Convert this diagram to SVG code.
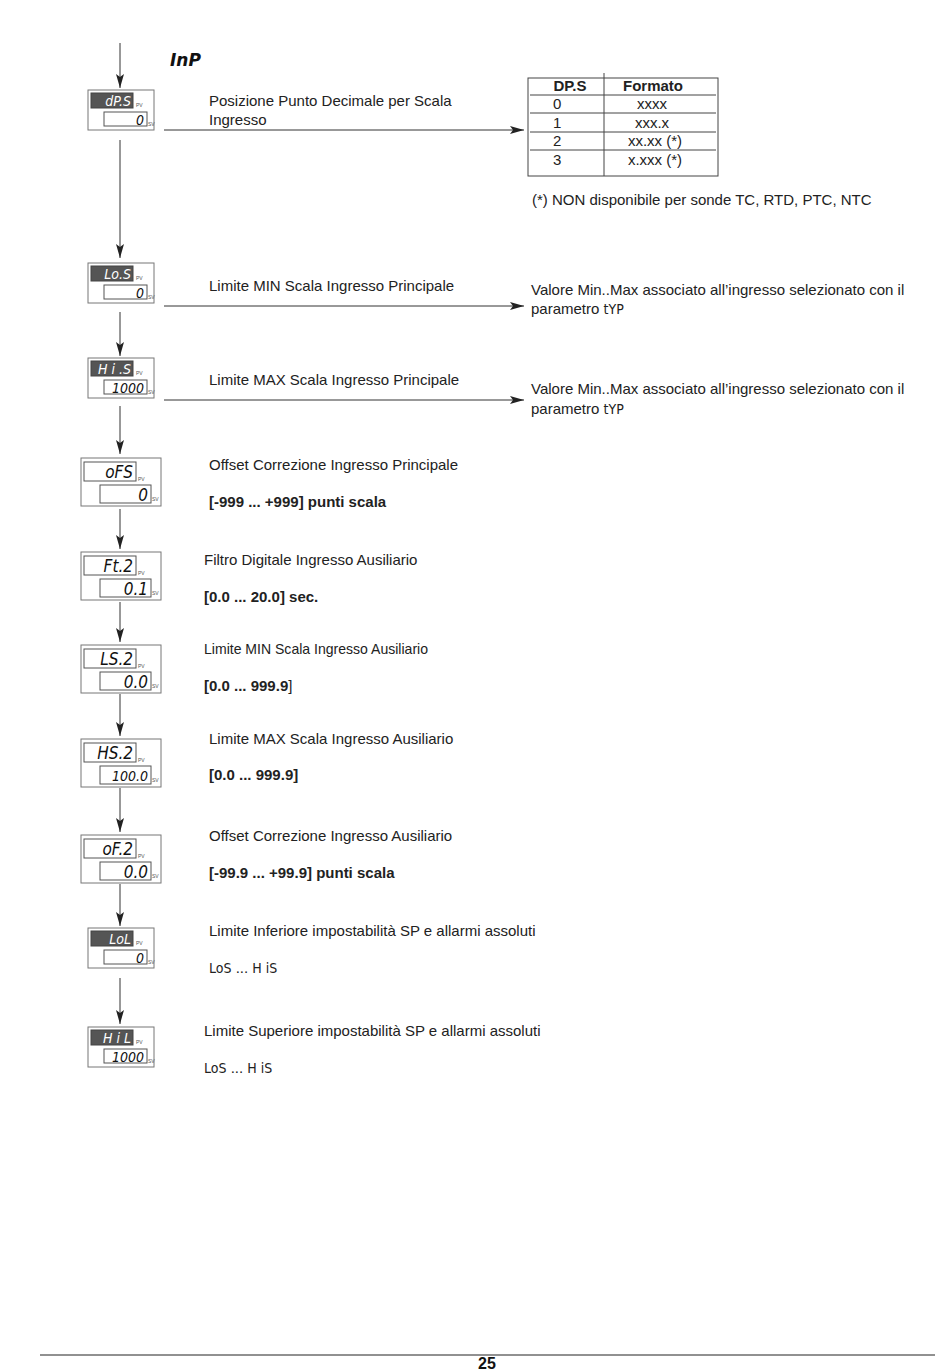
<svg xmlns="http://www.w3.org/2000/svg" width="950" height="1371" viewBox="0 0 950 1371">
<style>
.t{font-family:"Liberation Sans",Arial,sans-serif;font-size:15px;fill:#222}
.b{font-weight:bold}
.seg{font-family:"DejaVu Sans Condensed","DejaVu Sans",sans-serif;font-style:italic;font-size:14px}
.sl{font-size:17px}
.segw{fill:#fff}
.segk{fill:#111}
.tiny{font-family:"Liberation Sans",Arial,sans-serif;font-size:5px;fill:#555}
.ob{fill:#fff;stroke:#777;stroke-width:1}
.ib{fill:#fff;stroke:#555;stroke-width:1}
.dk{fill:#555;stroke:#444;stroke-width:1}
.ln{stroke:#333;stroke-width:1;fill:none}
.tl{stroke:#444;stroke-width:1;fill:none}
.s7{font-family:"DejaVu Sans Condensed","DejaVu Sans",sans-serif;font-size:14px}
</style>
<defs>
<marker id="ah" viewBox="0 0 14 8" refX="14" refY="4" markerWidth="14" markerHeight="8" markerUnits="userSpaceOnUse" orient="auto">
<path d="M0,0 L14,4 L0,8 L3,4 z" fill="#222"/>
</marker>
</defs>

<text x="170" y="66" style="font-family:'DejaVu Sans',sans-serif;font-weight:bold;font-style:italic;font-size:17px;fill:#111">InP</text>

<g id="connectors">
<line class="ln" x1="120" y1="43" x2="120" y2="88" marker-end="url(#ah)"/>
<line class="ln" x1="120" y1="140" x2="120" y2="258" marker-end="url(#ah)"/>
<line class="ln" x1="120" y1="312" x2="120" y2="356" marker-end="url(#ah)"/>
<line class="ln" x1="120" y1="406" x2="120" y2="454" marker-end="url(#ah)"/>
<line class="ln" x1="120" y1="509" x2="120" y2="549" marker-end="url(#ah)"/>
<line class="ln" x1="120" y1="602" x2="120" y2="642" marker-end="url(#ah)"/>
<line class="ln" x1="120" y1="694" x2="120" y2="736" marker-end="url(#ah)"/>
<line class="ln" x1="120" y1="788" x2="120" y2="832" marker-end="url(#ah)"/>
<line class="ln" x1="120" y1="884" x2="120" y2="926" marker-end="url(#ah)"/>
<line class="ln" x1="120" y1="978" x2="120" y2="1024" marker-end="url(#ah)"/>
<line class="ln" x1="164" y1="130" x2="524" y2="130" marker-end="url(#ah)"/>
<line class="ln" x1="164" y1="306" x2="524" y2="306" marker-end="url(#ah)"/>
<line class="ln" x1="164" y1="400" x2="524" y2="400" marker-end="url(#ah)"/>
</g>

<g id="n-dps">
<rect class="ob" x="88" y="90" width="66" height="40"/>
<rect class="dk" x="91" y="93" width="42" height="15"/>
<text class="seg segw" x="131" y="106" text-anchor="end">dP.S</text>
<text class="tiny" x="136" y="107">PV</text>
<rect class="ib" x="104" y="112" width="43" height="14"/>
<text class="seg segk" x="144" y="125" text-anchor="end">0</text>
<text class="tiny" x="148" y="126">SV</text>
<text class="t" x="209" y="106">Posizione Punto Decimale per Scala</text>
<text class="t" x="209" y="125">Ingresso</text>
</g>

<g id="table">
<rect class="tl" x="528" y="78" width="190" height="98"/>
<line class="tl" x1="604" y1="73" x2="604" y2="176"/>
<line class="tl" x1="530" y1="95" x2="716" y2="95"/>
<line class="tl" x1="530" y1="113" x2="716" y2="113"/>
<line class="tl" x1="530" y1="132" x2="716" y2="132"/>
<line class="tl" x1="530" y1="150" x2="716" y2="150"/>
<text class="t b" x="570" y="91" text-anchor="middle">DP.S</text>
<text class="t b" x="653" y="91" text-anchor="middle">Formato</text>
<text class="t" x="553" y="109">0</text>
<text class="t" x="553" y="128">1</text>
<text class="t" x="553" y="146">2</text>
<text class="t" x="553" y="165">3</text>
<text class="t" x="652" y="109" text-anchor="middle">xxxx</text>
<text class="t" x="652" y="128" text-anchor="middle">xxx.x</text>
<text class="t" x="655" y="146" text-anchor="middle">xx.xx (*)</text>
<text class="t" x="655" y="165" text-anchor="middle">x.xxx (*)</text>
<text class="t" x="532" y="205">(*) NON disponibile per sonde TC, RTD, PTC, NTC</text>
</g>

<g id="n-los">
<rect class="ob" x="88" y="263" width="66" height="40"/>
<rect class="dk" x="91" y="266" width="42" height="15"/>
<text class="seg segw" x="131" y="279" text-anchor="end">Lo.S</text>
<text class="tiny" x="136" y="280">PV</text>
<rect class="ib" x="104" y="285" width="43" height="14"/>
<text class="seg segk" x="144" y="298" text-anchor="end">0</text>
<text class="tiny" x="148" y="299">SV</text>
<text class="t" x="209" y="291">Limite MIN Scala Ingresso Principale</text>
<text class="t" x="531" y="295">Valore Min..Max associato all’ingresso selezionato con il</text>
<text class="t" x="531" y="314">parametro <tspan class="s7" font-size="13">tYP</tspan></text>
</g>

<g id="n-his">
<rect class="ob" x="88" y="358" width="66" height="40"/>
<rect class="dk" x="91" y="361" width="42" height="15"/>
<text class="seg segw" x="131" y="374" text-anchor="end">H i .S</text>
<text class="tiny" x="136" y="375">PV</text>
<rect class="ib" x="104" y="380" width="43" height="14"/>
<text class="seg segk" x="144" y="393" text-anchor="end">1000</text>
<text class="tiny" x="148" y="394">SV</text>
<text class="t" x="209" y="385">Limite MAX Scala Ingresso Principale</text>
<text class="t" x="531" y="394">Valore Min..Max associato all’ingresso selezionato con il</text>
<text class="t" x="531" y="414">parametro <tspan class="s7" font-size="13">tYP</tspan></text>
</g>

<g id="n-ofs">
<rect class="ob" x="81" y="458" width="80" height="48"/>
<rect class="ib" x="84" y="462" width="52" height="19"/>
<text class="seg sl segk" x="133" y="478" text-anchor="end">oFS</text>
<text class="tiny" x="138" y="481">PV</text>
<rect class="ib" x="100" y="485" width="51" height="18"/>
<text class="seg sl segk" x="148" y="501" text-anchor="end">0</text>
<text class="tiny" x="152" y="501">SV</text>
<text class="t" x="209" y="470">Offset Correzione Ingresso Principale</text>
<text class="t b" x="209" y="507">[-999 ... +999] punti scala</text>
</g>

<g id="n-ft2">
<rect class="ob" x="81" y="552" width="80" height="48"/>
<rect class="ib" x="84" y="556" width="52" height="19"/>
<text class="seg sl segk" x="133" y="572" text-anchor="end">Ft.2</text>
<text class="tiny" x="138" y="575">PV</text>
<rect class="ib" x="100" y="579" width="51" height="18"/>
<text class="seg sl segk" x="148" y="595" text-anchor="end">0.1</text>
<text class="tiny" x="152" y="595">SV</text>
<text class="t" x="204" y="565">Filtro Digitale Ingresso Ausiliario</text>
<text class="t b" x="204" y="602">[0.0 ... 20.0] sec.</text>
</g>

<g id="n-ls2">
<rect class="ob" x="81" y="645" width="80" height="48"/>
<rect class="ib" x="84" y="649" width="52" height="19"/>
<text class="seg sl segk" x="133" y="665" text-anchor="end">LS.2</text>
<text class="tiny" x="138" y="668">PV</text>
<rect class="ib" x="100" y="672" width="51" height="18"/>
<text class="seg sl segk" x="148" y="688" text-anchor="end">0.0</text>
<text class="tiny" x="152" y="688">SV</text>
<text class="t" x="204" y="654" textLength="224" lengthAdjust="spacingAndGlyphs">Limite MIN Scala Ingresso Ausiliario</text>
<text class="t" x="204" y="691"><tspan class="b">[0.0 ... 999.9</tspan>]</text>
</g>

<g id="n-hs2">
<rect class="ob" x="81" y="739" width="80" height="48"/>
<rect class="ib" x="84" y="743" width="52" height="19"/>
<text class="seg sl segk" x="133" y="759" text-anchor="end">HS.2</text>
<text class="tiny" x="138" y="762">PV</text>
<rect class="ib" x="100" y="766" width="51" height="18"/>
<text class="seg segk" x="148" y="781" text-anchor="end" font-size="16">100.0</text>
<text class="tiny" x="152" y="782">SV</text>
<text class="t" x="209" y="744">Limite MAX Scala Ingresso Ausiliario</text>
<text class="t b" x="209" y="780">[0.0 ... 999.9]</text>
</g>

<g id="n-of2">
<rect class="ob" x="81" y="835" width="80" height="48"/>
<rect class="ib" x="84" y="839" width="52" height="19"/>
<text class="seg sl segk" x="133" y="855" text-anchor="end">oF.2</text>
<text class="tiny" x="138" y="858">PV</text>
<rect class="ib" x="100" y="862" width="51" height="18"/>
<text class="seg sl segk" x="148" y="878" text-anchor="end">0.0</text>
<text class="tiny" x="152" y="878">SV</text>
<text class="t" x="209" y="841">Offset Correzione Ingresso Ausiliario</text>
<text class="t b" x="209" y="878">[-99.9 ... +99.9] punti scala</text>
</g>

<g id="n-lol">
<rect class="ob" x="88" y="928" width="66" height="40"/>
<rect class="dk" x="91" y="931" width="42" height="15"/>
<text class="seg segw" x="131" y="944" text-anchor="end">LoL</text>
<text class="tiny" x="136" y="945">PV</text>
<rect class="ib" x="104" y="950" width="43" height="14"/>
<text class="seg segk" x="144" y="963" text-anchor="end">0</text>
<text class="tiny" x="148" y="964">SV</text>
<text class="t" x="209" y="936">Limite Inferiore impostabilità SP e allarmi assoluti</text>
<text class="t" x="209" y="973"><tspan class="s7">LoS</tspan> ... <tspan class="s7">H iS</tspan></text>
</g>

<g id="n-hil">
<rect class="ob" x="88" y="1027" width="66" height="40"/>
<rect class="dk" x="91" y="1030" width="42" height="15"/>
<text class="seg segw" x="131" y="1043" text-anchor="end">H i L</text>
<text class="tiny" x="136" y="1044">PV</text>
<rect class="ib" x="104" y="1049" width="43" height="14"/>
<text class="seg segk" x="144" y="1062" text-anchor="end">1000</text>
<text class="tiny" x="148" y="1063">SV</text>
<text class="t" x="204" y="1036">Limite Superiore impostabilità SP e allarmi assoluti</text>
<text class="t" x="204" y="1073"><tspan class="s7">LoS</tspan> ... <tspan class="s7">H iS</tspan></text>
</g>

<line x1="40" y1="1355" x2="935" y2="1355" stroke="#222" stroke-width="1"/>
<text x="487" y="1369" text-anchor="middle" style="font-family:'Liberation Sans',Arial,sans-serif;font-weight:bold;font-size:16px;fill:#111">25</text>
</svg>
